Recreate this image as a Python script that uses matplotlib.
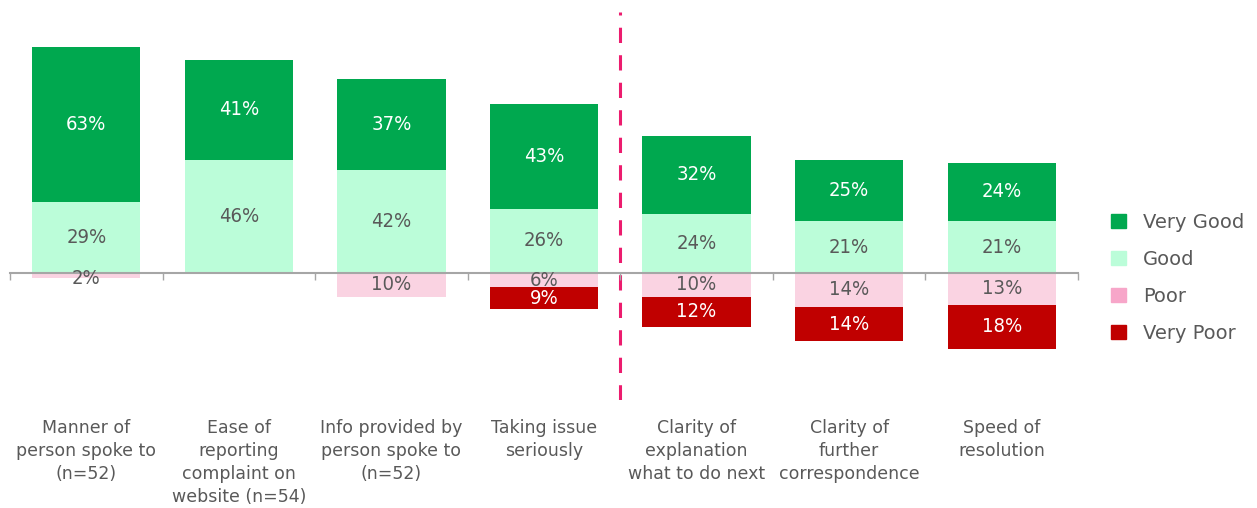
import matplotlib
matplotlib.use("Agg")
import matplotlib.pyplot as plt
from matplotlib.patches import Patch
import numpy as np

categories = [
    "Manner of\nperson spoke to\n(n=52)",
    "Ease of\nreporting\ncomplaint on\nwebsite (n=54)",
    "Info provided by\nperson spoke to\n(n=52)",
    "Taking issue\nseriously",
    "Clarity of\nexplanation\nwhat to do next",
    "Clarity of\nfurther\ncorrespondence",
    "Speed of\nresolution",
]
very_good = [63, 41, 37, 43, 32, 25, 24]
good = [29, 46, 42, 26, 24, 21, 21]
poor = [2, 0, 10, 6, 10, 14, 13]
very_poor = [0, 0, 0, 9, 12, 14, 18]

C_VGOOD = "#00a84f"
C_GOOD = "#bbfdd9"
C_POOR = "#fad3e2"
C_POOR_KEY = "#f7a6c9"
C_VPOOR = "#c00000"
C_TEXT = "#595959"
C_AXIS = "#a6a6a6"
C_DIVIDER = "#ec1c6e"

fig = plt.figure(figsize=(12.57, 5.08), dpi=100)
ax = fig.add_axes([10 / 1257, 108 / 508, 1068 / 1257, 388 / 508])

x = np.arange(len(categories))
vg = np.array(very_good)
g = np.array(good)
p = np.array(poor)
vp = np.array(very_poor)
width = 0.71

ax.bar(x, g, width, color=C_GOOD, zorder=2)
ax.bar(x, vg, width, bottom=g, color=C_VGOOD, zorder=2)
ax.bar(x, -p, width, color=C_POOR, zorder=2)
ax.bar(x, -vp, width, bottom=-p, color=C_VPOOR, zorder=2)


def label(xi, val, centre, colour):
    if val <= 0:
        return
    ax.text(xi, centre, f"{val}%", ha="center", va="center", color=colour,
            fontsize=14.5, family="DejaVu Sans", fontstretch="condensed", zorder=4)


for i in range(len(categories)):
    label(x[i], g[i], g[i] / 2, C_TEXT)
    label(x[i], vg[i], g[i] + vg[i] / 2, "white")
    label(x[i], p[i], -p[i] / 2 - (1.5 if p[i] < 4 else 0), C_TEXT)
    label(x[i], vp[i], -p[i] - vp[i] / 2, "white")

# zero line with boundary ticks between categories
ax.set_xlim(-0.5, len(categories) - 0.5)
ax.set_ylim(-52, 106.5)
for side in ["top", "right", "left"]:
    ax.spines[side].set_visible(False)
ax.spines["bottom"].set_position(("data", 0))
ax.spines["bottom"].set_color(C_AXIS)
ax.spines["bottom"].set_linewidth(1.5)
ax.spines["bottom"].set_zorder(3)
ax.set_yticks([])
ax.set_xticks(np.arange(-0.5, len(categories)), minor=True)
ax.tick_params(axis="x", which="minor", length=5, width=1, color=C_AXIS, direction="out")
ax.set_xticks(x)
ax.set_xticklabels(categories, fontsize=12.5, color=C_TEXT, linespacing=1.38)
ax.tick_params(axis="x", which="major", length=0, pad=105)

# divider between the two groups of questions
ax.axvline(3.5, ymin=0, ymax=1, color=C_DIVIDER, lw=2.2, ls=(0, (5, 4)), zorder=1)

handles = [
    Patch(color=C_VGOOD, label="Very Good"),
    Patch(color=C_GOOD, label="Good"),
    Patch(color=C_POOR_KEY, label="Poor"),
    Patch(color=C_VPOOR, label="Very Poor"),
]
leg = fig.legend(handles=handles, loc="center left", bbox_to_anchor=(1111 / 1257, 0.453),
                 frameon=False, fontsize=14, handlelength=0.75, handleheight=0.75,
                 handletextpad=0.9, labelspacing=0.92, borderpad=0, borderaxespad=0)
for t in leg.get_texts():
    t.set_color(C_TEXT)

fig.savefig("out.png", dpi=100)
